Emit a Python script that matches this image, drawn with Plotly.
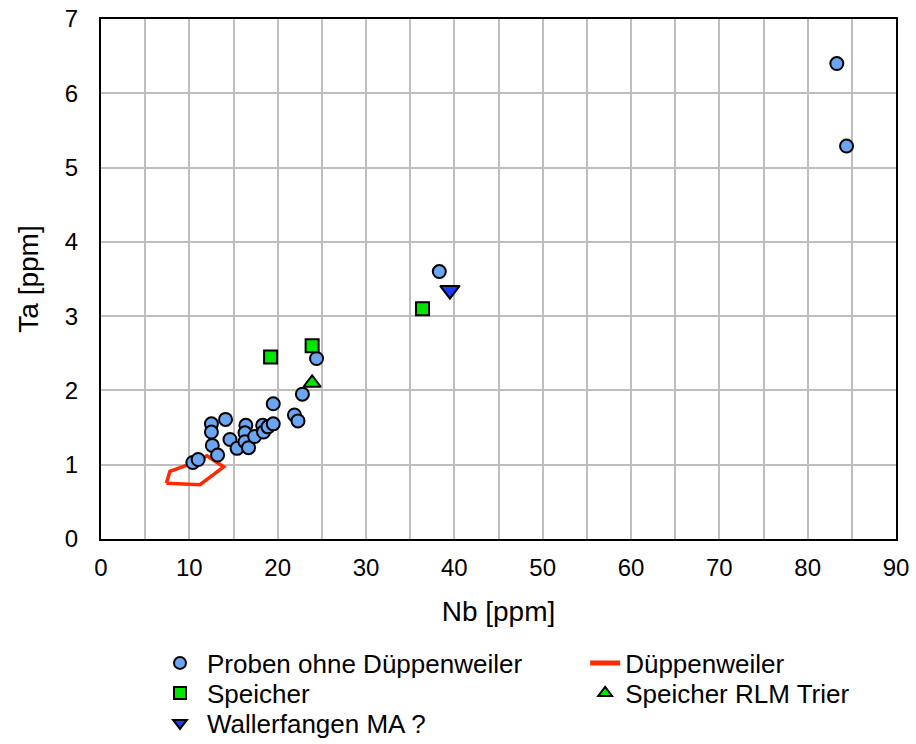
import plotly.graph_objects as go

# Samples without Düppenweiler (Nb, Ta in ppm)
proben_nb = [10.4, 11.0, 12.5, 12.5, 12.6, 13.2, 14.1, 14.6, 15.4, 16.4, 16.3, 16.3, 16.7,
             17.4, 18.3, 18.4, 18.9, 19.5, 19.5, 21.9, 22.3, 22.8, 24.4, 38.3, 83.3, 84.4]
proben_ta = [1.03, 1.07, 1.55, 1.44, 1.26, 1.13, 1.61, 1.34, 1.22, 1.53, 1.43, 1.31, 1.23,
             1.38, 1.53, 1.44, 1.51, 1.55, 1.82, 1.67, 1.59, 1.95, 2.43, 3.60, 6.40, 5.29]

# Düppenweiler field outline
dupp_nb = [7.4, 7.8, 9.9, 12.0, 13.9, 11.2, 7.4]
dupp_ta = [0.75, 0.91, 1.00, 1.12, 0.97, 0.73, 0.75]

speicher_nb = [19.2, 23.9, 36.4]
speicher_ta = [2.45, 2.60, 3.10]

rlm_nb = [23.9]
rlm_ta = [2.10]

waller_nb = [39.5]
waller_ta = [3.35]

FONT = "Liberation Sans, Arial, Helvetica, sans-serif"
edge = dict(color="black", width=2)

fig = go.Figure()
fig.add_trace(go.Scatter(x=dupp_nb, y=dupp_ta, mode="lines", name="Düppenweiler",
                         line=dict(color="#FF2A00", width=3.5), legend="legend2"))
fig.add_trace(go.Scatter(x=proben_nb, y=proben_ta, mode="markers", name="Proben ohne Düppenweiler",
                         marker=dict(symbol="circle", size=13, color="#6CA6F2", line=edge),
                         legend="legend"))
fig.add_trace(go.Scatter(x=speicher_nb, y=speicher_ta, mode="markers", name="Speicher",
                         marker=dict(symbol="square", size=13, color="#00E600", line=edge),
                         legend="legend3"))
fig.add_trace(go.Scatter(x=rlm_nb, y=rlm_ta, mode="markers", name="Speicher RLM Trier",
                         marker=dict(symbol="triangle-up", size=15, color="#00E600", line=edge),
                         legend="legend4"))
fig.add_trace(go.Scatter(x=waller_nb, y=waller_ta, mode="markers", name="Wallerfangen MA ?",
                         marker=dict(symbol="triangle-down", size=17, color="#1A3CFF", line=edge),
                         legend="legend5"))

axis_common = dict(showline=True, linecolor="black", linewidth=2, mirror=True,
                   showgrid=True, gridcolor="#BEBEBE", gridwidth=2, zeroline=False,
                   ticks="", tickfont=dict(family=FONT, size=24, color="black"))

fig.update_xaxes(range=[0, 90], dtick=10, tick0=0,
                 minor=dict(dtick=5, showgrid=True, gridcolor="#BEBEBE", gridwidth=2),
                 title=dict(text="Nb [ppm]", font=dict(family=FONT, size=28, color="black"),
                            standoff=22),
                 ticklabelstandoff=6, **axis_common)
fig.update_yaxes(range=[0, 7], dtick=1, tick0=0,
                 title=dict(text="Ta [ppm]", font=dict(family=FONT, size=28, color="black"),
                            standoff=18),
                 ticklabelstandoff=16, **axis_common)


def legend_box(x, y, itemwidth):
    return dict(x=x, y=y, xanchor="left", yanchor="middle", orientation="v",
                bgcolor="rgba(0,0,0,0)", itemwidth=itemwidth, itemsizing="constant",
                font=dict(family=FONT, size=26, color="black"))


# Two-column key below the plot
col1, col2 = 0.0654, 0.609
row1, row2, row3 = -0.2385, -0.2962, -0.3538

fig.update_layout(
    width=916, height=744,
    margin=dict(l=101, r=20, t=19, b=205, autoexpand=False),
    paper_bgcolor="white", plot_bgcolor="white",
    font=dict(family=FONT, size=24, color="black"),
    showlegend=True,
    legend=legend_box(col1, row1, 44),
    legend2=legend_box(col2, row1, 30),
    legend3=legend_box(col1, row2, 44),
    legend4=legend_box(col2, row2, 30),
    legend5=legend_box(col1, row3, 44),
)

fig.write_html("out.html")
